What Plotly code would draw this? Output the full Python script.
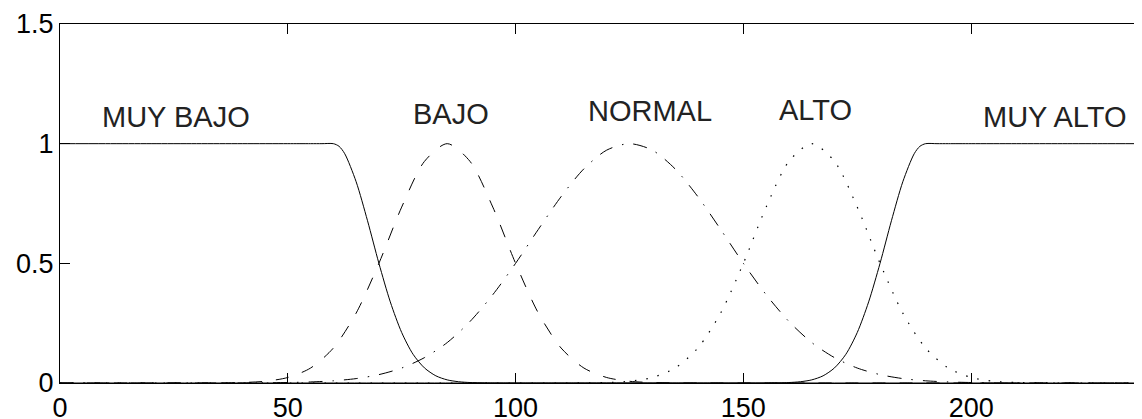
import plotly.graph_objects as go

# sample positions along the universe of discourse (Gaussian sets)
x_vals = [0, 5, 10, 15, 20, 25, 30, 35, 40, 45, 50, 55, 60, 65, 70, 75, 80, 85, 90, 95,
          100, 105, 110, 115, 120, 125, 130, 135, 140, 145, 150, 155, 160, 165, 170, 175,
          180, 185, 190, 195, 200, 205, 210, 215, 220, 225, 230, 235, 240]

# shoulder sets sampled more finely in their transition region
muy_bajo_x = [0, 10, 20, 30, 40, 50, 55, 57.5, 60, 61.25, 62.5, 65, 67.5, 70, 72.5, 75, 77.5, 80, 82.5, 85,
              87.5, 90, 95, 100, 120, 140, 160, 180, 200, 220, 240]
muy_bajo = [1, 1, 1, 1, 1, 1, 1, 1, 1, 0.989, 0.958, 0.841, 0.678, 0.5, 0.339, 0.211, 0.120, 0.063, 0.030, 0.013,
            0.0053, 0.002, 0.0002, 0, 0, 0, 0, 0, 0, 0, 0]

muy_alto_x = [0, 20, 40, 60, 80, 100, 120, 140, 150, 155, 160, 162.5, 165, 167.5, 170, 172.5, 175,
              177.5, 180, 182.5, 185, 187.5, 188.75, 190, 192.5, 195, 200, 210, 220, 230, 240]
muy_alto = [0, 0, 0, 0, 0, 0, 0, 0, 0, 0.0002, 0.002, 0.0053, 0.013, 0.030, 0.063, 0.120, 0.211,
            0.339, 0.5, 0.678, 0.841, 0.958, 0.989, 1, 1, 1, 1, 1, 1, 1, 1]

bajo = [0, 0, 0, 0, 0, 0, 0, 0.0005, 0.002, 0.0072, 0.023, 0.0625, 0.146, 0.292, 0.5, 0.735, 0.926, 1, 0.926, 0.735,
        0.5, 0.292, 0.146, 0.0625, 0.023, 0.0072, 0.002, 0.0005, 0, 0, 0, 0, 0, 0, 0, 0,
        0, 0, 0, 0, 0, 0, 0, 0, 0, 0, 0, 0, 0]

normal = [0, 0, 0, 0, 0, 0, 0, 0, 0.0003, 0.0008, 0.002, 0.0044, 0.0092, 0.0184, 0.035, 0.0625, 0.106, 0.169, 0.257, 0.369,
          0.5, 0.642, 0.779, 0.895, 0.973, 1, 0.973, 0.895, 0.779, 0.642, 0.5, 0.369, 0.257, 0.169, 0.106, 0.0625,
          0.035, 0.0184, 0.0092, 0.0044, 0.002, 0.0008, 0.0003, 0, 0, 0, 0, 0, 0]

alto = [0, 0, 0, 0, 0, 0, 0, 0, 0, 0, 0, 0, 0, 0, 0, 0, 0, 0, 0, 0,
        0, 0, 0, 0.0005, 0.002, 0.0072, 0.023, 0.0625, 0.146, 0.292, 0.5, 0.735, 0.926, 1, 0.926, 0.735,
        0.5, 0.292, 0.146, 0.0625, 0.023, 0.0072, 0.002, 0.0005, 0, 0, 0, 0, 0]

labels = ["MUY BAJO", "BAJO", "NORMAL", "ALTO", "MUY ALTO"]
label_x = [25.5, 85.8, 129.5, 165.8, 218.2]
label_y = [1.110, 1.124, 1.138, 1.140, 1.110]

x_ticks = [0, 50, 100, 150, 200]
y_ticks = [0, 0.5, 1, 1.5]

series = [
    (muy_bajo_x, muy_bajo, "solid", 1),
    (x_vals, bajo, "13px,14px", 1),
    (x_vals, normal, "14px,10px,1.5px,10px", 1),
    (x_vals, alto, "1.5px,10px", 1.2),
    (muy_alto_x, muy_alto, "solid", 1),
]

fig = go.Figure()
for name, (xs, vals, dash, w) in zip(labels, series):
    fig.add_trace(go.Scatter(
        x=xs, y=vals, mode="lines", name=name,
        line=dict(color="black", width=w, dash=dash, shape="spline", smoothing=0.8),
        showlegend=False, hoverinfo="skip",
    ))

for t, xx, yy in zip(labels, label_x, label_y):
    fig.add_annotation(x=xx, y=yy, text=t, showarrow=False, xanchor="center", yanchor="middle",
                       font=dict(family="Liberation Sans, Arial, sans-serif", size=29, color="#222222"))

# the page body has an 8px default margin; size the figure so it fills the window
fig.update_layout(
    width=1134, height=411,
    margin=dict(l=52, r=0, t=16, b=36, autoexpand=False),
    paper_bgcolor="white", plot_bgcolor="white",
    font=dict(family="Liberation Sans, Arial, sans-serif", size=27, color="black"),
)
fig.update_xaxes(
    range=[0, 237.5], tickvals=x_ticks, ticktext=[str(v) for v in x_ticks],
    showgrid=False, zeroline=False, showline=True, linecolor="black", linewidth=1.3,
    mirror="ticks", ticks="inside", ticklen=10, tickwidth=1, tickcolor="black",
    automargin=False,
)
fig.update_yaxes(
    range=[0, 1.5], tickvals=y_ticks, ticktext=["0", "0.5", "1", "1.5"],
    showgrid=False, zeroline=False, showline=True, linecolor="black", linewidth=1.3,
    mirror=False, ticks="inside", ticklen=10, tickwidth=1, tickcolor="black",
    automargin=False,
)

fig.write_html("out.html")
